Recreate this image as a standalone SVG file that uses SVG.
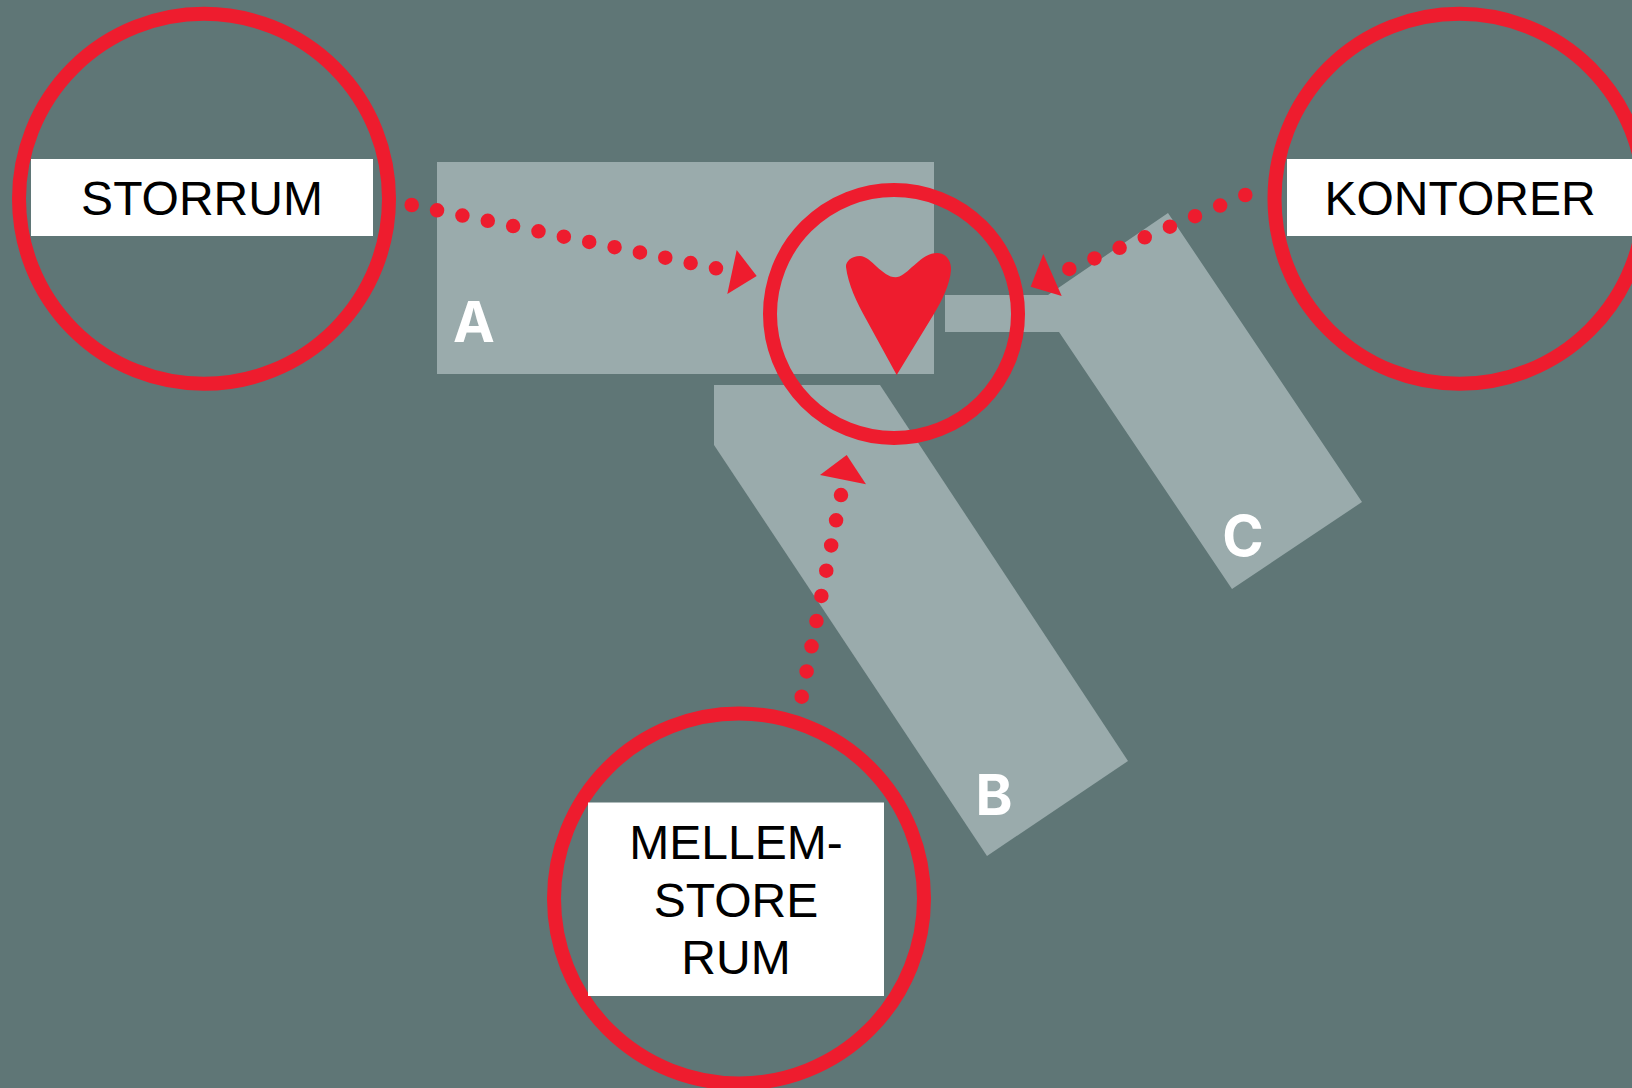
<svg xmlns="http://www.w3.org/2000/svg" width="1632" height="1088" viewBox="0 0 1632 1088">
<style>
.wing{fill:#9aabac}
.ring{fill:none;stroke:#ee1c2e;stroke-width:14}
.label{fill:#fff}
.t{font-family:"Liberation Sans",Arial,sans-serif;font-size:48px;fill:#000;text-anchor:middle}
.w{font-family:Inter,"Liberation Sans",sans-serif;font-size:56px;font-weight:700;fill:#fff;text-anchor:middle}
.dots{fill:none;stroke:#ee1c2e;stroke-width:14.5;stroke-linecap:round}
.head,.heart{fill:#ee1c2e}
</style>
<rect width="1632" height="1088" fill="#5f7676"/>
<g id="wing-a"><rect class="wing" x="437" y="162" width="497" height="212"/><text class="w" x="474" y="342">A</text></g>
<g id="wing-b"><polygon class="wing" points="714,385 880,385 1128,761 987,856 714,445"/><text class="w" x="994" y="815">B</text></g>
<g id="wing-c"><polygon class="wing" points="945,295 1048,295 1168,213 1362,502 1232,589 1059,332 945,332"/><text class="w" x="1243" y="556">C</text></g>
<g id="heart">
<circle class="ring" cx="894" cy="314" r="124"/>
<path class="heart" d="M896.700 375 L866 319 C857 303 848 284 846 267 C845.500 262 851 256 860 256 C871 256 882 277.300 895.700 277.300 C907 277.300 920 253 937 253 C946 253 951.500 261 951 270 C950 284 942 301 933.300 315 Z"/>
</g>
<g id="connectors">
<path class="dots" d="M411.700 205 L716 268.300" stroke-dasharray="0 25.900"/>
<polygon class="head" points="736.700,250 756.700,276 727.300,294"/>
<path class="dots" d="M1245.300 195 L1069.300 269" stroke-dasharray="0 27.270"/>
<polygon class="head" points="1043.300,254 1061.700,296 1030.700,286.700"/>
<path class="dots" d="M801.700 696.700 L841 495" stroke-dasharray="0 25.680"/>
<polygon class="head" points="846.700,455 866,484.300 820,475"/>
</g>
<g id="storrum">
<circle class="ring" cx="204" cy="198.800" r="185"/>
<rect class="label" x="31" y="159" width="342" height="77"/>
<text class="t" x="202" y="215">STORRUM</text>
</g>
<g id="kontorer">
<circle class="ring" cx="1459.500" cy="198.800" r="185"/>
<rect class="label" x="1287" y="159" width="345" height="77"/>
<text class="t" x="1460" y="215">KONTORER</text>
</g>
<g id="mellemstore">
<circle class="ring" cx="739" cy="898.500" r="185"/>
<rect class="label" x="588" y="802.500" width="296" height="193.500"/>
<text class="t" x="736" y="859">MELLEM-</text>
<text class="t" x="736" y="917">STORE</text>
<text class="t" x="736" y="974">RUM</text>
</g>
</svg>
